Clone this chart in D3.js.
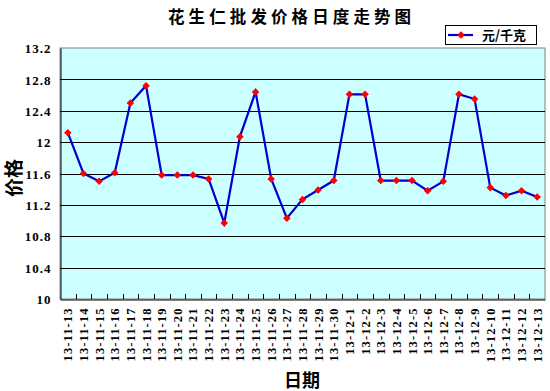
<!DOCTYPE html>
<html><head><meta charset="utf-8">
<script src="https://cdn.jsdelivr.net/npm/d3@7"></script>
<style>body{margin:0;background:#fff}</style>
</head><body>
<script>
const categories = ["13-11-13","13-11-14","13-11-15","13-11-16","13-11-17","13-11-18","13-11-19","13-11-20","13-11-21","13-11-22","13-11-23","13-11-24","13-11-25","13-11-26","13-11-27","13-11-28","13-11-29","13-11-30","13-12-1","13-12-2","13-12-3","13-12-4","13-12-5","13-12-6","13-12-7","13-12-8","13-12-9","13-12-10","13-12-11","13-12-12","13-12-13"];
const prices = [12.12,11.6,11.5,11.61,12.5,12.72,11.58,11.58,11.58,11.53,10.97,12.07,12.64,11.53,11.03,11.27,11.39,11.51,12.61,12.61,11.51,11.51,11.51,11.38,11.5,12.61,12.55,11.42,11.32,11.38,11.3];
const yTicks = [10,10.4,10.8,11.2,11.6,12,12.4,12.8,13.2];
const title = "花生仁批发价格日度走势图";
const seriesName = "元/千克";
const xTitle = "日期", yTitle = "价格";

const W = 550, H = 391;
const m = {left:60, right:5, top:48, bottom:92};
const svg = d3.select("body").append("svg").attr("width",W).attr("height",H);
const numFont = "'Liberation Serif', 'Noto Sans CJK SC', serif";
const cjk = "'Noto Sans CJK SC', sans-serif";

const x = d3.scaleBand().domain(categories).range([m.left, W-m.right]);
const y = d3.scaleLinear().domain([10,13.2]).range([H-m.bottom, m.top]);

svg.append("rect").attr("x",m.left).attr("y",m.top).attr("width",W-m.right-m.left).attr("height",H-m.bottom-m.top)
  .attr("fill","#ccffff").attr("stroke","#808080").attr("stroke-width",1);

svg.append("g").selectAll("line").data(yTicks.slice(1,-1)).join("line")
  .attr("x1",m.left).attr("x2",W-m.right).attr("y1",d=>Math.round(y(d))+0.5).attr("y2",d=>Math.round(y(d))+0.5)
  .attr("stroke","#000").attr("stroke-width",1);

// y axis
const ya = svg.append("g").attr("transform",`translate(${m.left+0.5},0)`)
  .call(d3.axisLeft(y).tickValues(yTicks).tickFormat(d=>d3.format("")(d)).tickSize(0).tickPadding(9));
ya.select(".domain").attr("stroke","#000");
ya.selectAll("text").attr("font-family",numFont).attr("font-weight","bold").attr("font-size",13)
  .attr("letter-spacing","1px").attr("fill","#000").attr("dy","0.36em");

// x axis
const xa = svg.append("g").attr("transform",`translate(0,${H-m.bottom+0.5})`)
  .call(d3.axisBottom(x).tickSize(0).tickPadding(0));
xa.select(".domain").attr("stroke","#000");
xa.selectAll("text").attr("font-family",numFont).attr("font-weight","bold").attr("font-size",12.5).attr("fill","#000")
  .attr("letter-spacing","1.1px")
  .attr("transform","rotate(-90)").attr("text-anchor","end").attr("dx","-8").attr("dy","0.36em")
  .attr("y",0).attr("x",0);
// inner tick marks at category boundaries
svg.append("g").selectAll("line").data(categories.slice(1)).join("line")
  .attr("x1",d=>Math.round(x(d))+0.5).attr("x2",d=>Math.round(x(d))+0.5)
  .attr("y1",H-m.bottom).attr("y2",H-m.bottom-5).attr("stroke","#000");

// line
const line = d3.line().x((d,i)=>x(categories[i])+x.bandwidth()/2).y(d=>y(d));
svg.append("path").datum(prices).attr("d",line).attr("fill","none").attr("stroke","#0000cc").attr("stroke-width",2.2);
const diamond = d3.symbol().type(d3.symbolDiamond2).size(36);
svg.append("g").selectAll("path").data(prices).join("path")
  .attr("transform",(d,i)=>`translate(${x(categories[i])+x.bandwidth()/2},${y(d)})`)
  .attr("d",diamond).attr("fill","#ff0000");

// title
svg.append("text").attr("x",168).attr("y",23)
  .attr("font-family",cjk).attr("font-weight","bold").attr("font-size",16.5).attr("letter-spacing","4.1px").text(title);
// axis titles
svg.append("text").attr("x",302).attr("y",387).attr("text-anchor","middle")
  .attr("font-family",cjk).attr("font-weight","bold").attr("font-size",18).text(xTitle);
svg.append("text").attr("transform","translate(21,178) rotate(-90)").attr("text-anchor","middle")
  .attr("font-family",cjk).attr("font-weight","bold").attr("font-size",19).text(yTitle);

// legend
const lg = svg.append("g");
lg.append("rect").attr("x",445.5).attr("y",25.5).attr("width",91).attr("height",19).attr("fill","#fff").attr("stroke","#000");
lg.append("line").attr("x1",448).attr("x2",473).attr("y1",35).attr("y2",35).attr("stroke","#0000cc").attr("stroke-width",2.2);
lg.append("path").attr("transform","translate(461,35)").attr("d",diamond).attr("fill","#ff0000");
lg.append("text").attr("x",482).attr("y",40).attr("font-family",cjk).attr("font-weight","bold").attr("font-size",13).text(seriesName);
</script>
</body></html>
